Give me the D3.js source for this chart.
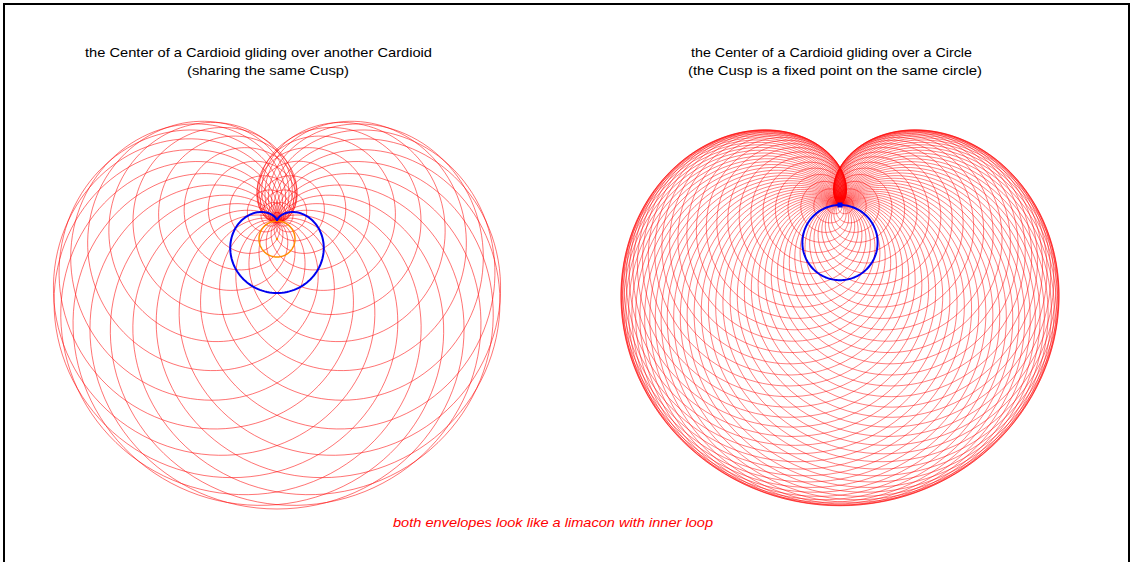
<!DOCTYPE html>
<html>
<head>
<meta charset="utf-8">
<script src="https://cdn.jsdelivr.net/npm/d3@7"></script>
<style>
  body { margin: 0; background: #fff; }
  svg { display: block; }
  text { font-family: "Liberation Sans", Arial, sans-serif; }
</style>
</head>
<body>
<svg></svg>
<script>
// positions (degrees) of the gliding center along the blue guide curve
const leftGlide = [0, 10, 20, 30, 40, 50, 60, 70, 80, 90, 100, 110, 120, 130, 140, 150, 160, 170,
  180, 190, 200, 210, 220, 230, 240, 250, 260, 270, 280, 290, 300, 310, 320, 330, 340, 350];
const rightGlide = [0, 5, 10, 15, 20, 25, 30, 35, 40, 45, 50, 55, 60, 65, 70, 75, 80, 85,
  90, 95, 100, 105, 110, 115, 120, 125, 130, 135, 140, 145, 150, 155, 160, 165, 170, 175,
  180, 185, 190, 195, 200, 205, 210, 215, 220, 225, 230, 235, 240, 245, 250, 255, 260, 265,
  270, 275, 280, 285, 290, 295, 300, 305, 310, 315, 320, 325, 330, 335, 340, 345, 350, 355];

const leftTitle = ["the Center of a Cardioid gliding over another Cardioid", "(sharing the same Cusp)"];
const rightTitle = ["the Center of a Cardioid gliding over a Circle", "(the Cusp is a fixed point on the same circle)"];
const footNote = "both envelopes look like a limacon with inner loop";

const svg = d3.select("svg");
svg.attr("width", innerWidth).attr("height", innerHeight);

// frame
svg.append("rect")
  .attr("x", 4).attr("y", 4)
  .attr("width", 1125).attr("height", 620)
  .attr("fill", "none").attr("stroke", "#000").attr("stroke-width", 2);

const rad = (d) => (d * Math.PI) / 180;
const T = d3.range(0, 361, 2).map(rad);

// cardioid with cusp P whose fixed-circle center is Q
const cardioid = (P, Q) => {
  const a = Math.hypot(Q[0] - P[0], Q[1] - P[1]);
  const phi = Math.atan2(Q[1] - P[1], Q[0] - P[0]);
  return T.map((t) => {
    const r = 2 * a * (1 + Math.cos(t));
    return [P[0] + r * Math.cos(phi + t), P[1] + r * Math.sin(phi + t)];
  });
};

const panel = (cx, cy, unit) => {
  const x = d3.scaleLinear().domain([-1, 1]).range([cx - unit, cx + unit]);
  const y = d3.scaleLinear().domain([-1, 1]).range([cy + unit, cy - unit]);
  const line = d3.line().x((d) => x(d[0])).y((d) => y(d[1]));
  return { x, y, line, g: svg.append("g") };
};

const cusp = [0, 0];

// ---- left: center glides over a cardioid ----
const L = panel(277, 221, 18);
const baseCenter = [0, -1];
const onBase = (deg) => {
  const th = rad(deg);
  const r = 2 * (1 + Math.cos(th));
  return [r * Math.cos(-Math.PI / 2 + th), r * Math.sin(-Math.PI / 2 + th)];
};

L.g.selectAll("path.moving")
  .data(leftGlide)
  .join("path")
  .attr("class", "moving")
  .attr("d", (d) => L.line(cardioid(cusp, onBase(d))))
  .attr("fill", "none")
  .attr("stroke", "#ff0000")
  .attr("stroke-opacity", 0.55)
  .attr("stroke-width", 1);

L.g.append("path")
  .attr("d", L.line(T.map((t) => [baseCenter[0] + Math.cos(t), baseCenter[1] + Math.sin(t)])))
  .attr("fill", "none").attr("stroke", "#ff8c00").attr("stroke-width", 1.5);

L.g.append("path")
  .attr("d", L.line(cardioid(cusp, baseCenter)))
  .attr("fill", "none").attr("stroke", "#0000ee").attr("stroke-width", 2);

L.g.append("circle")
  .attr("cx", L.x(baseCenter[0])).attr("cy", L.y(baseCenter[1]))
  .attr("r", 1.2).attr("fill", "#ff8c00");

// ---- right: center glides over a circle ----
const R = panel(840, 205, 37.6);
const circleCenter = [0, -1];
const onCircle = (deg) => {
  const al = rad(deg);
  return [circleCenter[0] + Math.sin(al), circleCenter[1] - Math.cos(al)];
};

R.g.selectAll("path.moving")
  .data(rightGlide.filter((d) => d !== 180))
  .join("path")
  .attr("class", "moving")
  .attr("d", (d) => R.line(cardioid(cusp, onCircle(d))))
  .attr("fill", "none")
  .attr("stroke", "#ff0000")
  .attr("stroke-opacity", 0.5)
  .attr("stroke-width", 1);

R.g.append("path")
  .attr("d", R.line(T.map((t) => [circleCenter[0] + Math.cos(t), circleCenter[1] + Math.sin(t)])))
  .attr("fill", "none").attr("stroke", "#0000ee").attr("stroke-width", 2);

R.g.append("rect")
  .attr("x", R.x(0) - 2.5).attr("y", R.y(0) - 2.5)
  .attr("width", 5).attr("height", 5)
  .attr("fill", "#0000ee");

// ---- texts ----
const addLines = (lines, spec) => {
  lines.forEach((s, i) => {
    svg.append("text")
      .attr("x", spec[i].x)
      .attr("y", spec[i].y)
      .attr("text-anchor", "middle")
      .attr("font-size", 13)
      .attr("textLength", spec[i].w)
      .attr("lengthAdjust", "spacingAndGlyphs")
      .attr("fill", "#000")
      .text(s);
  });
};
addLines(leftTitle, [{ x: 258.5, y: 57, w: 347 }, { x: 268, y: 75, w: 162 }]);
addLines(rightTitle, [{ x: 831.5, y: 57, w: 281 }, { x: 835, y: 75, w: 294 }]);

svg.append("text")
  .attr("x", 553)
  .attr("y", 527)
  .attr("text-anchor", "middle")
  .attr("font-size", 13)
  .attr("font-style", "italic")
  .attr("textLength", 320)
  .attr("lengthAdjust", "spacingAndGlyphs")
  .attr("fill", "#ff0000")
  .text(footNote);
</script>
</body>
</html>
